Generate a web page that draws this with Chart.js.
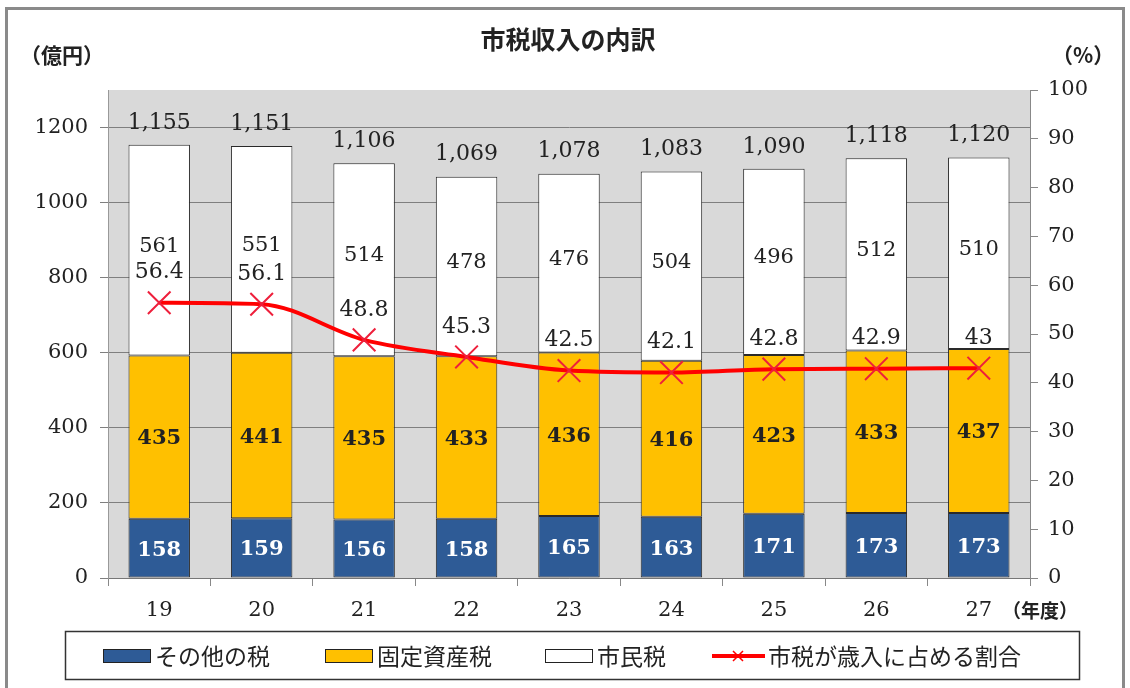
<!DOCTYPE html>
<html>
<head>
<meta charset="utf-8">
<script src="https://cdn.jsdelivr.net/npm/chart.js@4.4.0/dist/chart.umd.min.js"></script>
<style>
  html, body { margin: 0; background: #fff; }
  #wrap { width: 1130px; height: 688px; }
</style>
</head>
<body>
<div id="wrap"><canvas id="mychart"></canvas></div>
<script>
// data
const years = ["19", "20", "21", "22", "23", "24", "25", "26", "27"];
const otherTax = [158, 159, 156, 158, 165, 163, 171, 173, 173];      // その他の税
const assetTax = [435, 441, 435, 433, 436, 416, 423, 433, 437];      // 固定資産税
const residentTax = [561, 551, 514, 478, 476, 504, 496, 512, 510];   // 市民税
const totals = [1155, 1151, 1106, 1069, 1078, 1083, 1090, 1118, 1120];
const shareRate = [56.4, 56.1, 48.8, 45.3, 42.5, 42.1, 42.8, 42.9, 43]; // 市税が歳入に占める割合

const numFont = "'DejaVu Serif', 'Liberation Serif', serif";
const jpFont = "'Noto Sans CJK JP', 'Noto Sans', sans-serif";

const BLUE = "#2e5b96";
const YELLOW = "#ffc000";
const RED = "#ff0000";

// grey plot background + outer frame
const backdrop = {
  id: "backdrop",
  beforeDraw(chart) {
    const { ctx, chartArea: a } = chart;
    ctx.save();
    ctx.fillStyle = "#fff";
    ctx.fillRect(0, 0, chart.width, chart.height);
    ctx.fillStyle = "#d9d9d9";
    ctx.fillRect(a.left, a.top, a.right - a.left, a.bottom - a.top);
    ctx.strokeStyle = "#8a8a8a";
    ctx.lineWidth = 3;
    ctx.strokeRect(6.5, 8.5, 1117, 700);
    ctx.restore();
  },
};

// values on the bars, totals and percentages
const valueLabels = {
  id: "valueLabels",
  afterDatasetsDraw(chart) {
    const ctx = chart.ctx;
    ctx.save();
    ctx.textAlign = "center";
    ctx.textBaseline = "middle";

    const segs = [
      { idx: 0, data: otherTax, color: "#fff", font: "bold 21px " + numFont, dy: 2 },
      { idx: 1, data: assetTax, color: "#222", font: "bold 21px " + numFont, dy: 2 },
      { idx: 2, data: residentTax, color: "#222", font: "21px " + numFont, dy: -4 },
    ];
    segs.forEach((s) => {
      const meta = chart.getDatasetMeta(s.idx);
      ctx.fillStyle = s.color;
      ctx.font = s.font;
      meta.data.forEach((el, i) => {
        ctx.fillText(String(s.data[i]), el.x, (el.y + el.base) / 2 + s.dy);
      });
    });

    // totals above the stacks
    const top = chart.getDatasetMeta(2);
    ctx.fillStyle = "#222";
    ctx.font = "22px " + numFont;
    top.data.forEach((el, i) => {
      ctx.fillText(totals[i].toLocaleString("en-US"), el.x, el.y - 22);
    });

    // percentages above the markers
    const line = chart.getDatasetMeta(3);
    line.data.forEach((pt, i) => {
      ctx.fillText(String(shareRate[i]), pt.x, pt.y - 30);
    });
    ctx.restore();
  },
};

// title, unit captions and the boxed legend
const captions = {
  id: "captions",
  afterDraw(chart) {
    const ctx = chart.ctx;
    ctx.save();
    ctx.fillStyle = "#222";
    ctx.textBaseline = "middle";

    ctx.textAlign = "center";
    ctx.font = "bold 25px " + jpFont;
    ctx.fillText("市税収入の内訳", 568, 39);

    ctx.textAlign = "left";
    ctx.font = "bold 21px " + jpFont;
    ctx.fillText("（億円）", 20, 55);
    ctx.fillText("（%）", 1052, 55);
    ctx.font = "bold 19px " + jpFont;
    ctx.fillText("（年度）", 1002, 611);

    // legend box
    ctx.strokeStyle = "#333";
    ctx.lineWidth = 1.5;
    ctx.strokeRect(65.5, 631.5, 1014, 48);

    const y = 656;
    const items = [
      { x: 103, text: "その他の税", fill: BLUE },
      { x: 325, text: "固定資産税", fill: YELLOW },
      { x: 545, text: "市民税", fill: "#fff" },
    ];
    ctx.font = "23px " + jpFont;
    items.forEach((it) => {
      ctx.fillStyle = it.fill;
      ctx.fillRect(it.x, y - 7, 48, 14);
      ctx.strokeStyle = "#222";
      ctx.lineWidth = 1;
      ctx.strokeRect(it.x + 0.5, y - 6.5, 47, 13);
      ctx.fillStyle = "#222";
      ctx.fillText(it.text, it.x + 52, y);
    });

    // line swatch
    ctx.strokeStyle = RED;
    ctx.lineWidth = 4;
    ctx.beginPath();
    ctx.moveTo(712, y);
    ctx.lineTo(765, y);
    ctx.stroke();
    ctx.lineWidth = 1.5;
    ctx.beginPath();
    ctx.moveTo(733, y - 5); ctx.lineTo(743, y + 5);
    ctx.moveTo(743, y - 5); ctx.lineTo(733, y + 5);
    ctx.stroke();
    ctx.fillStyle = "#222";
    ctx.fillText("市税が歳入に占める割合", 768, y);
    ctx.restore();
  },
};

const barCommon = {
  type: "bar",
  stack: "tax",
  yAxisID: "y",
  order: 1,
  borderColor: "#2a2a2a",
  borderWidth: 1,
  borderSkipped: false,
  categoryPercentage: 1,
  barPercentage: 0.6,
};

const ctx = document.getElementById("mychart").getContext("2d");

const myChart = new Chart(ctx, {
  data: {
    labels: years,
    datasets: [
      { ...barCommon, label: "その他の税", data: otherTax, backgroundColor: BLUE },
      { ...barCommon, label: "固定資産税", data: assetTax, backgroundColor: YELLOW },
      { ...barCommon, label: "市民税", data: residentTax, backgroundColor: "#ffffff" },
      {
        type: "line",
        label: "市税が歳入に占める割合",
        data: shareRate,
        yAxisID: "y1",
        order: 0,
        borderColor: RED,
        borderWidth: 4,
        cubicInterpolationMode: "monotone",
        pointStyle: "crossRot",
        pointRadius: 16,
        pointBorderWidth: 2,
        pointBorderColor: "#ee1f3b",
        pointBackgroundColor: RED,
      },
    ],
  },
  options: {
    responsive: true,
    maintainAspectRatio: false,
    animation: false,
    layout: { padding: { left: 10, right: 10, top: 90, bottom: 58 } },
    plugins: {
      legend: { display: false },
      title: { display: false },
      tooltip: { enabled: false },
    },
    scales: {
      x: {
        stacked: true,
        grid: { offset: true, drawOnChartArea: false, tickLength: 8, color: "#888" },
        border: { color: "#777" },
        ticks: { color: "#222", font: { family: numFont, size: 21 }, padding: 12 },
        afterFit: (s) => { s.height = 52; },
      },
      y: {
        stacked: true,
        position: "left",
        min: 0,
        max: 1300,
        ticks: {
          stepSize: 200,
          color: "#222",
          font: { family: numFont, size: 21 },
          padding: 12,
          callback: (v) => String(v),
        },
        afterBuildTicks: (s) => { s.ticks = s.ticks.filter((t) => t.value <= 1200); },
        grid: { color: "#7f7f7f", tickLength: 8 },
        border: { color: "#999" },
        afterFit: (s) => { s.width = 98; },
      },
      y1: {
        position: "right",
        min: 0,
        max: 100,
        ticks: { stepSize: 10, color: "#222", font: { family: numFont, size: 21 }, padding: 10 },
        grid: { drawOnChartArea: false, tickLength: 8, color: "#888" },
        border: { color: "#888" },
        afterFit: (s) => { s.width = 90; },
      },
    },
  },
  plugins: [backdrop, valueLabels, captions],
});
</script>
</body>
</html>
